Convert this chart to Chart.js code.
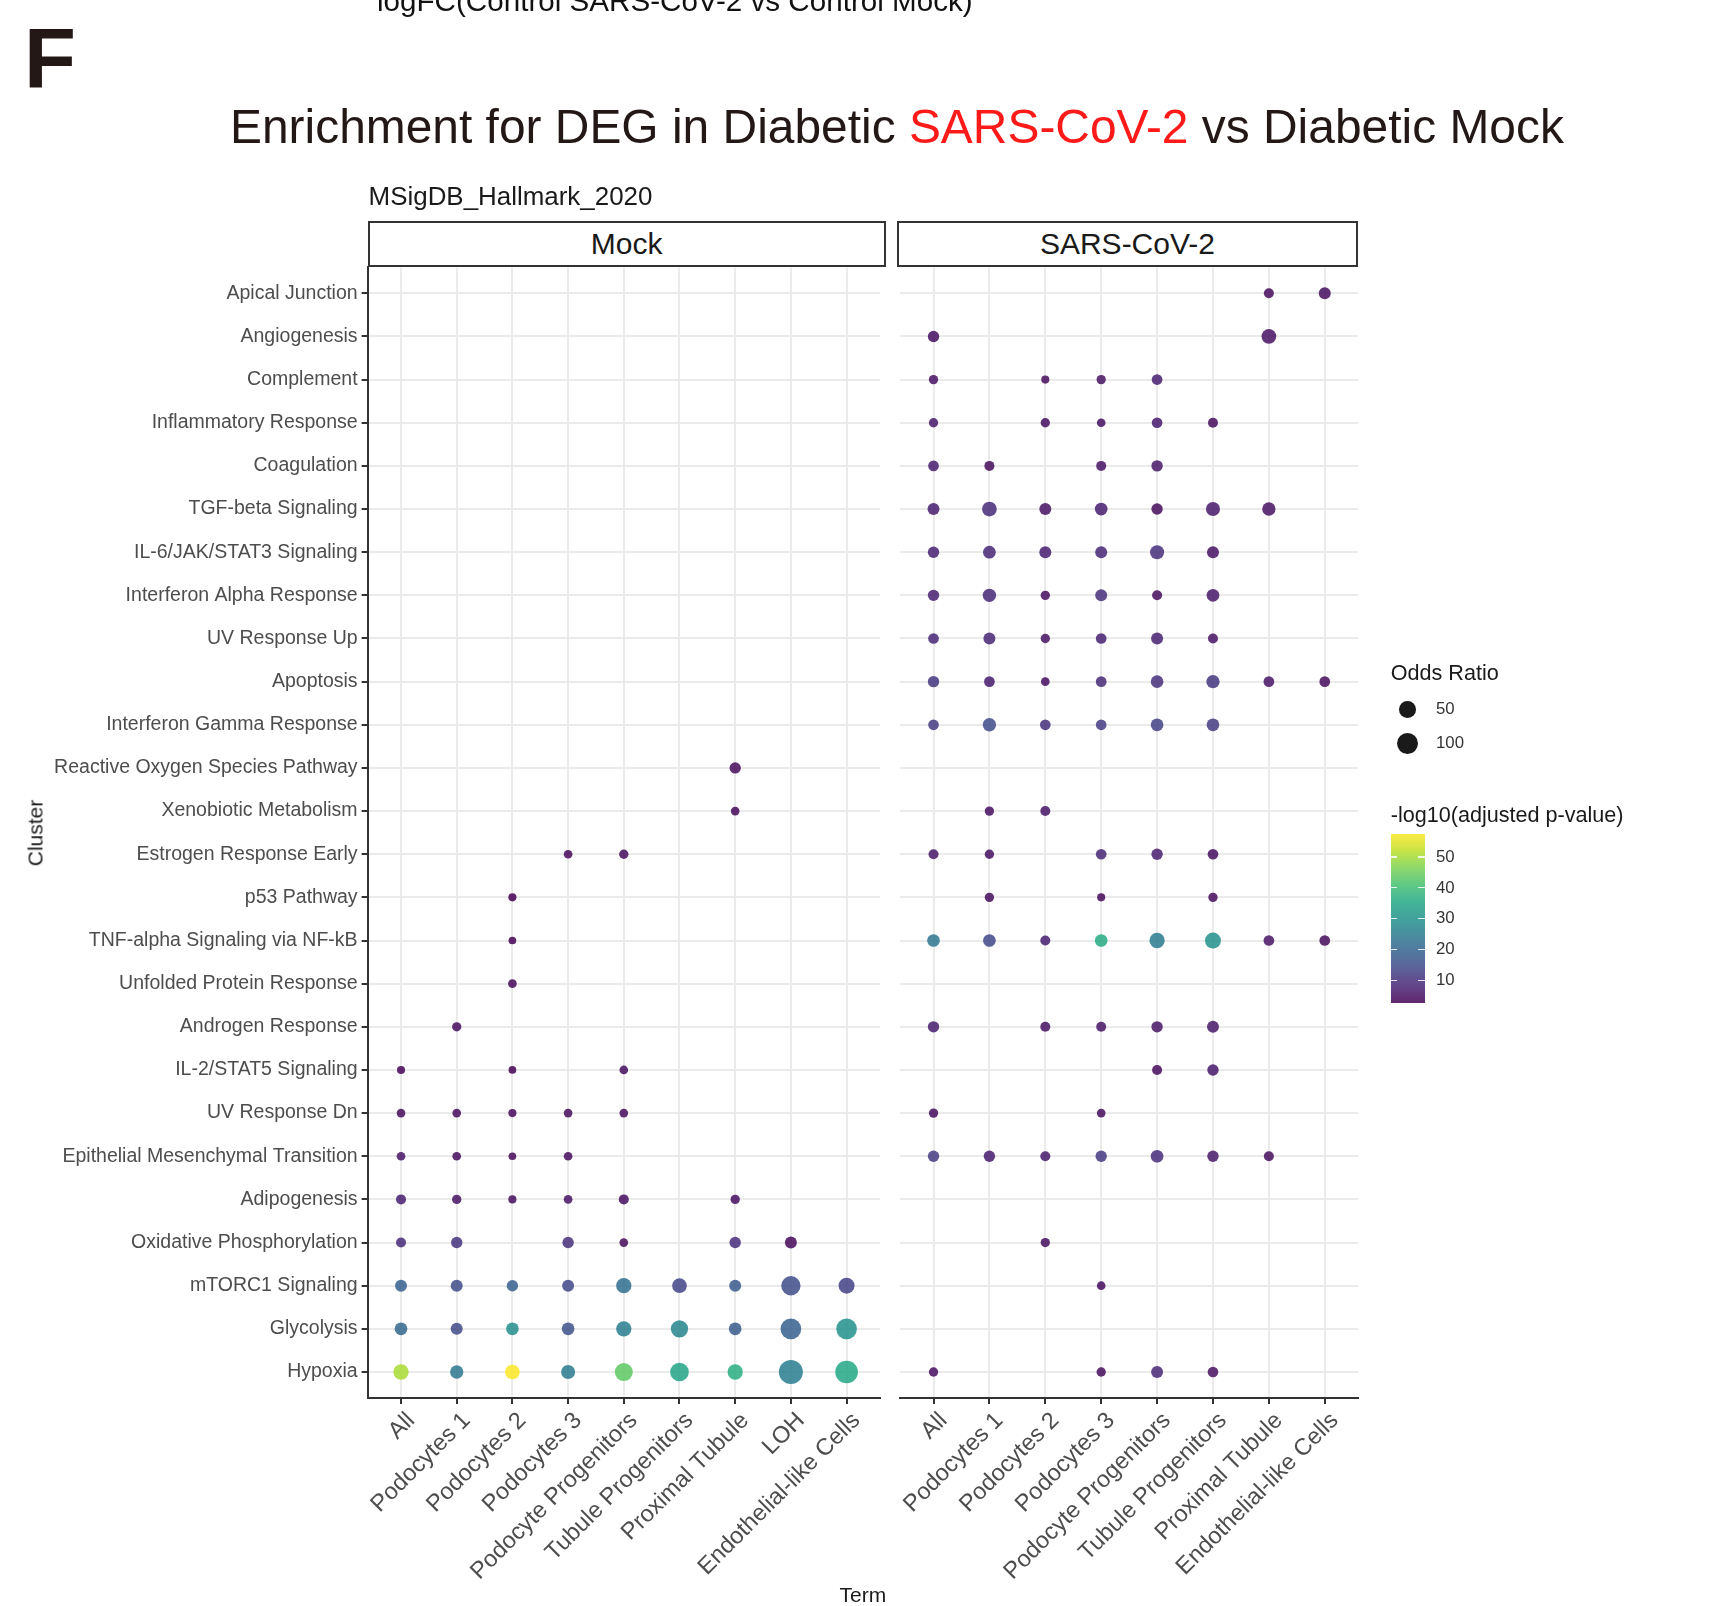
<!DOCTYPE html>
<html><head><meta charset="utf-8">
<script src="https://cdn.jsdelivr.net/npm/chart.js@4.4.1/dist/chart.umd.min.js"></script>
<style>
html,body{margin:0;padding:0;background:#fff;width:1715px;height:1606px;overflow:hidden;position:relative;font-family:'Liberation Sans',Arial,Helvetica,sans-serif;}
.abs{position:absolute;white-space:nowrap;}
canvas{position:absolute;}
.strip{position:absolute;box-sizing:border-box;border:2px solid #333;background:#fff;display:flex;align-items:center;justify-content:center;font-size:30px;color:#1a1a1a;}
</style></head><body>
<canvas id="cMock" width="892" height="1606" style="left:0;top:0"></canvas>
<canvas id="cSars" width="823" height="1606" style="left:892px;top:0"></canvas>
<div id="topcut" class="abs" style="color:#111">logFC(Control SARS-CoV-2 vs Control Mock)</div>
<div id="fig" class="abs" style="font-weight:bold;color:#231815">F</div>
<div id="title" class="abs" style="color:#231815">Enrichment for DEG in Diabetic <span style="color:#ff1a1a">SARS-CoV-2</span> vs Diabetic Mock</div>
<div id="subtitle" class="abs" style="color:#1a1a1a">MSigDB_Hallmark_2020</div>
<div id="stripMock" class="strip">Mock</div>
<div id="stripSars" class="strip">SARS-CoV-2</div>
<div id="ytitle" class="abs" style="color:#1a1a1a">Cluster</div>
<div id="xtitle" class="abs" style="color:#1a1a1a">Term</div>
<div id="legend"></div>
<script>
// ---------------- data ----------------
const clusters = ["Apical Junction","Angiogenesis","Complement","Inflammatory Response","Coagulation","TGF-beta Signaling","IL-6/JAK/STAT3 Signaling","Interferon Alpha Response","UV Response Up","Apoptosis","Interferon Gamma Response","Reactive Oxygen Species Pathway","Xenobiotic Metabolism","Estrogen Response Early","p53 Pathway","TNF-alpha Signaling via NF-kB","Unfolded Protein Response","Androgen Response","IL-2/STAT5 Signaling","UV Response Dn","Epithelial Mesenchymal Transition","Adipogenesis","Oxidative Phosphorylation","mTORC1 Signaling","Glycolysis","Hypoxia"];
const mockTerms = ["All","Podocytes 1","Podocytes 2","Podocytes 3","Podocyte Progenitors","Tubule Progenitors","Proximal Tubule","LOH","Endothelial-like Cells"];
const sarsTerms = ["All","Podocytes 1","Podocytes 2","Podocytes 3","Podocyte Progenitors","Tubule Progenitors","Proximal Tubule","Endothelial-like Cells"];
const _ = null;
// Odds ratio, Mock panel (rows = clusters, cols = mockTerms)
const mockOdds = [
 [_,_,_,_,_,_,_,_,_],[_,_,_,_,_,_,_,_,_],[_,_,_,_,_,_,_,_,_],[_,_,_,_,_,_,_,_,_],
 [_,_,_,_,_,_,_,_,_],[_,_,_,_,_,_,_,_,_],[_,_,_,_,_,_,_,_,_],[_,_,_,_,_,_,_,_,_],
 [_,_,_,_,_,_,_,_,_],[_,_,_,_,_,_,_,_,_],[_,_,_,_,_,_,_,_,_],
 [_,_,_,_,_,_,11,_,_],
 [_,_,_,_,_,_,2,_,_],
 [_,_,_,2,3.5,_,_,_,_],
 [_,_,1,_,_,_,_,_,_],
 [_,_,0.5,_,_,_,_,_,_],
 [_,_,2,_,_,_,_,_,_],
 [_,3.5,_,_,_,_,_,_,_],
 [1,_,0.5,_,2,_,_,_,_],
 [2,2,1,2,2,_,_,_,_],
 [2,2,0.5,2,_,_,_,_,_],
 [5.5,3.5,1,2,5.5,_,3.5,_,_],
 [5.5,11,_,11,2,_,11,14,_],
 [14,14,11,14,37,32,14,80,43],
 [18,14,18,18,37,56,18,98,98],
 [37,22,32,27,64,72,37,150,128]
];
// -log10(adjusted p-value), Mock panel
const mockLogP = [
 [_,_,_,_,_,_,_,_,_],[_,_,_,_,_,_,_,_,_],[_,_,_,_,_,_,_,_,_],[_,_,_,_,_,_,_,_,_],
 [_,_,_,_,_,_,_,_,_],[_,_,_,_,_,_,_,_,_],[_,_,_,_,_,_,_,_,_],[_,_,_,_,_,_,_,_,_],
 [_,_,_,_,_,_,_,_,_],[_,_,_,_,_,_,_,_,_],[_,_,_,_,_,_,_,_,_],
 [_,_,_,_,_,_,4,_,_],
 [_,_,_,_,_,_,3.5,_,_],
 [_,_,_,3.5,4,_,_,_,_],
 [_,_,2.6,_,_,_,_,_,_],
 [_,_,2.6,_,_,_,_,_,_],
 [_,_,3.5,_,_,_,_,_,_],
 [_,4,_,_,_,_,_,_,_],
 [3,_,2.6,_,4,_,_,_,_],
 [4,4,3.5,4,4,_,_,_,_],
 [5.5,4,3.5,4,_,_,_,_,_],
 [7,5,4,5,4.5,_,4.5,_,_],
 [9,10.5,_,10,4,_,9.5,3.5,_],
 [19,15,19,14,22,13.5,18,15,13],
 [20.5,14.5,29,16,25.5,27,18,19,30],
 [50,24,57.3,25,43.5,34,36.5,25.5,35.5]
];
// Odds ratio, SARS-CoV-2 panel (cols = sarsTerms)
const sarsOdds = [
 [_,_,_,_,_,_,5.5,14],
 [11,_,_,_,_,_,32,_],
 [3.5,_,1,3.5,8,_,_,_],
 [3.5,_,3.5,2,8,5.5,_,_],
 [8,5.5,_,5.5,11,_,_,_],
 [14,32,14,18,11,27,22,_],
 [11,18,14,14,27,14,_,_],
 [11,22,3.5,14,5.5,18,_,_],
 [8,14,3.5,8,14,5.5,_,_],
 [11,8,2,8,18,22,8,8],
 [8,22,8,8,18,18,_,_],
 [_,_,_,_,_,_,_,_],
 [_,3.5,5.5,_,_,_,_,_],
 [5.5,3.5,_,8,11,8,_,_],
 [_,3.5,_,1,_,3.5,_,_],
 [18,18,5.5,18,37,43,8,8],
 [_,_,_,_,_,_,_,_],
 [11,_,5.5,5.5,11,14,_,_],
 [_,_,_,_,5.5,11,_,_],
 [3.5,_,_,2,_,_,_,_],
 [11,11,5.5,11,18,11,5.5,_],
 [_,_,_,_,_,_,_,_],
 [_,_,3.5,_,_,_,_,_],
 [_,_,_,2,_,_,_,_],
 [_,_,_,_,_,_,_,_],
 [3.5,_,_,3.5,14,8,_,_]
];
// -log10(adjusted p-value), SARS-CoV-2 panel
const sarsLogP = [
 [_,_,_,_,_,_,4,4.5],
 [4.5,_,_,_,_,_,5,_],
 [5,_,4,5,7,_,_,_],
 [6,_,4.5,4.5,6.5,4,_,_],
 [7,4,_,5,6,_,_,_],
 [7,9,5,7,4,6,5,_],
 [7.5,8,7,8,10,5,_,_],
 [7.5,8.5,4.5,10,4,6,_,_],
 [8,8,5,7.5,7.5,5,_,_],
 [11,6.5,4.5,9,10,11,5.5,4],
 [12,15,10,12,13,12,_,_],
 [_,_,_,_,_,_,_,_],
 [_,4.5,5.5,_,_,_,_,_],
 [6,4.5,_,8,7,4.5,_,_],
 [_,4,_,3.5,_,4,_,_],
 [24,14,7,36,25,30,5.5,4],
 [_,_,_,_,_,_,_,_],
 [7,_,5,5.5,5.5,6,_,_],
 [_,_,_,_,4,6,_,_],
 [4,_,_,4,_,_,_,_],
 [12,6.5,6,11.5,9.5,6,4,_],
 [_,_,_,_,_,_,_,_],
 [_,_,4.5,_,_,_,_,_],
 [_,_,_,4,_,_,_,_],
 [_,_,_,_,_,_,_,_],
 [4.5,_,_,4,8,5,_,_]
];
const oddsBreaks = [50, 100];
const colorBreaks = [10, 20, 30, 40, 50];

// ---------------- styles / scales ----------------
const FONT = "'Liberation Sans', Arial, Helvetica, sans-serif";
Chart.defaults.font.family = FONT;
const VIRIDIS = ['#440154','#482475','#414487','#355F8D','#2A788E','#21918C','#22A884','#44BF70','#7AD151','#BDDF26','#FDE725'];
const ALPHA = 0.85;
function hexToRgb(h){return [parseInt(h.slice(1,3),16),parseInt(h.slice(3,5),16),parseInt(h.slice(5,7),16)];}
function viridis(t){t=Math.max(0,Math.min(1,t));const s=t*(VIRIDIS.length-1);const i=Math.min(Math.floor(s),VIRIDIS.length-2);const f=s-i;const a=hexToRgb(VIRIDIS[i]),b=hexToRgb(VIRIDIS[i+1]);return a.map((v,k)=>v+(b[k]-v)*f);}
const allP = [...mockLogP.flat(), ...sarsLogP.flat()].filter(v=>v!=null);
const pMin = Math.min(...allP), pMax = Math.max(...allP);
function tOf(p){return (p-pMin)/(pMax-pMin);}
function colorFor(p){const c=viridis(tOf(p));return `rgba(${c[0].toFixed(0)},${c[1].toFixed(0)},${c[2].toFixed(0)},${ALPHA})`;}
function solidFor(p){const c=viridis(tOf(p)).map(v=>v*ALPHA+255*(1-ALPHA));return `rgb(${c[0].toFixed(0)},${c[1].toFixed(0)},${c[2].toFixed(0)})`;}
function radiusFor(or){return (6.7 + 1.413*Math.sqrt(or))/2;}

function buildPoints(odds, logp){
  const pts=[];
  odds.forEach((row,i)=>row.forEach((o,j)=>{ if(o!=null) pts.push({x:j,y:i,r:radiusFor(o),odds:o,p:logp[i][j]}); }));
  return pts;
}

const PLOT_TOP = 267.4, PLOT_BOTTOM = 1397.9, H = 1606;
const XAXIS_H = H - PLOT_BOTTOM;

function makeChart(canvas, terms, points, opt){
  return new Chart(canvas, {
    type:'bubble',
    data:{datasets:[{data:points, backgroundColor:c=>colorFor(c.raw.p), borderWidth:0, hoverRadius:0, hoverBorderWidth:0}]},
    options:{
      responsive:false, animation:false, events:[], devicePixelRatio:1,
      layout:{padding:{left:opt.padL, right:opt.padR, top:PLOT_TOP, bottom:0}},
      plugins:{legend:{display:false}, tooltip:{enabled:false}, title:{display:false}},
      scales:{
        x:{type:'linear', min:-0.6, max:terms.length-1+0.6,
          afterBuildTicks:s=>{s.ticks = terms.map((_,i)=>({value:i}));},
          afterFit:s=>{s.height = XAXIS_H; s.paddingLeft=0; s.paddingRight=0;},
          ticks:{callback:v=>terms[v], autoSkip:false, minRotation:45, maxRotation:45, padding:3, labelOffset:10, color:'#4d4d4d', font:{size:23.5}},
          grid:{color:'#ebebeb', lineWidth:2, tickColor:'#333', tickWidth:2, tickLength:6},
          border:{display:true, color:'#333', width:2}},
        y:{type:'linear', reverse:true, min:-0.6, max:clusters.length-1+0.6,
          afterBuildTicks:s=>{s.ticks = clusters.map((_,i)=>({value:i}));},
          afterFit:s=>{s.width = opt.yWidth; s.paddingTop=0; s.paddingBottom=0;},
          ticks:{display:opt.showY, callback:v=>clusters[v], autoSkip:false, padding:4, color:'#4d4d4d', font:{size:19.5}},
          grid:{color:'#ebebeb', lineWidth:2, drawTicks:opt.showY, tickColor:'#333', tickWidth:2, tickLength:6},
          border:{display:opt.showY, color:'#333', width:2}}
      }
    }
  });
}

const mockLeft = 367.6, mockRight = 885.8, sarsLeft = 896.7, sarsRight = 1358.3;
makeChart(document.getElementById('cMock'), mockTerms, buildPoints(mockOdds, mockLogP),
  {padL:0, padR:892-mockRight, yWidth:mockLeft, showY:true});
makeChart(document.getElementById('cSars'), sarsTerms, buildPoints(sarsOdds, sarsLogP),
  {padL:sarsLeft-892, padR:1715-sarsRight, yWidth:0, showY:false});

// ---------------- annotations ----------------
function place(el, left, baseline, fs, targetW){
  el.style.fontSize=fs+'px'; el.style.lineHeight=fs+'px';
  if(targetW){const w=el.getBoundingClientRect().width; fs=fs*targetW/w; el.style.fontSize=fs+'px'; el.style.lineHeight=fs+'px';}
  el.style.left=left+'px'; el.style.top=(baseline-0.8465*fs)+'px';
  return fs;
}
place(document.getElementById('topcut'), 377, 11, 29, 596);
place(document.getElementById('fig'), 24, 88, 85);
place(document.getElementById('title'), 230, 144, 53, 1334);
place(document.getElementById('subtitle'), 368.6, 205.6, 26, 284);

const sm = document.getElementById('stripMock');
Object.assign(sm.style,{left:mockLeft+'px', top:'221px', width:(mockRight-mockLeft)+'px', height:(PLOT_TOP-221)+'px'});
const ss = document.getElementById('stripSars');
Object.assign(ss.style,{left:sarsLeft+'px', top:'221px', width:(sarsRight-sarsLeft)+'px', height:(PLOT_TOP-221)+'px'});

const yt = document.getElementById('ytitle');
Object.assign(yt.style,{fontSize:'21px', lineHeight:'21px', left:'35px', top:((PLOT_TOP+PLOT_BOTTOM)/2)+'px', transform:'translate(-50%,-50%) rotate(-90deg)'});
const xt = document.getElementById('xtitle');
place(xt, (mockLeft+sarsRight)/2, 1602, 21);
xt.style.transform='translateX(-50%)';

// legend
const lg = document.getElementById('legend');
function addText(txt, left, baseline, fs, color){const d=document.createElement('div');d.className='abs';d.textContent=txt;d.style.color=color;lg.appendChild(d);place(d,left,baseline,fs);return d;}
addText('Odds Ratio', 1390.7, 680, 21.6, '#1a1a1a');
const circleY = [709.3, 743.3];
oddsBreaks.forEach((b,i)=>{
  const r = radiusFor(b);
  const c=document.createElement('div');
  Object.assign(c.style,{position:'absolute', left:(1407.7-r)+'px', top:(circleY[i]-r)+'px', width:(2*r)+'px', height:(2*r)+'px', borderRadius:'50%', background:'#1a1a1a'});
  lg.appendChild(c);
  addText(String(b), 1436, circleY[i]+6, 16.8, '#333');
});
addText('-log10(adjusted p-value)', 1390.7, 822, 21.6, '#1a1a1a');
const barL=1390.7, barT=834.3, barW=34, barH=169;
const stops=[];
for(let k=0;k<=20;k++){const p=pMin+(pMax-pMin)*k/20; stops.push(`${solidFor(p)} ${(k*5)}%`);}
const bar=document.createElement('div');
Object.assign(bar.style,{position:'absolute', left:barL+'px', top:barT+'px', width:barW+'px', height:barH+'px', background:`linear-gradient(to top, ${stops.join(',')})`});
lg.appendChild(bar);
colorBreaks.forEach(v=>{
  const y = barT + (pMax-v)/(pMax-pMin)*barH;
  [barL, barL+barW-6.8].forEach(x=>{
    const t=document.createElement('div');
    Object.assign(t.style,{position:'absolute', left:x+'px', top:(y-0.75)+'px', width:'6.8px', height:'1.5px', background:'rgba(255,255,255,0.85)'});
    lg.appendChild(t);
  });
  addText(String(v), 1436, y+6, 16.8, '#333');
});
</script>
</body></html>
